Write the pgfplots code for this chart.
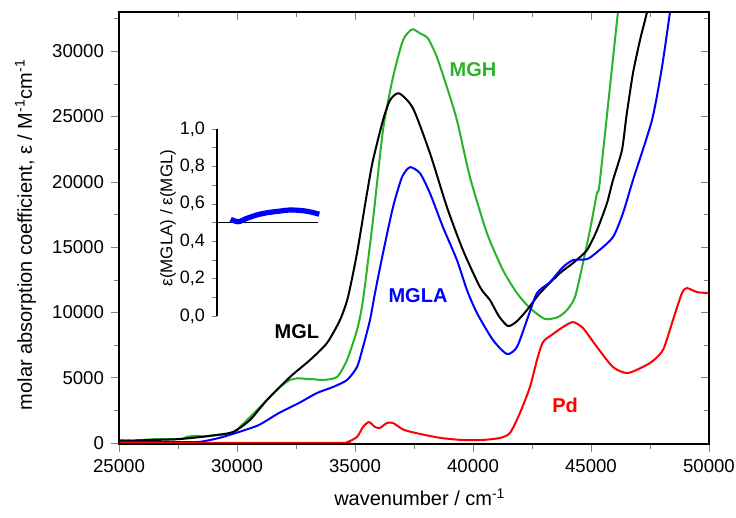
\documentclass[border=0pt]{standalone}
\usepackage{fontspec}
\setmainfont{Liberation Sans}
\usepackage{pgfplots}
\pgfplotsset{compat=1.18}
\definecolor{mgh}{RGB}{40,180,40}

\begin{document}
\begin{tikzpicture}
\path[use as bounding box] (-59.5pt,-37pt) rectangle (308.5pt,222pt);
% main axis: ticks out on bottom and left
\begin{axis}[
  at={(0,0)}, anchor=south west,
  scale only axis, width=295pt, height=216pt,
  xmin=25000, xmax=50000, ymin=-80, ymax=33000,
  xtick={25000,30000,...,50000}, ytick={0,5000,...,30000},
  minor xtick={27500,32500,...,47500}, minor ytick={2500,7500,...,32500},
  xtick pos=left, ytick pos=left, tick align=outside,
  major tick length=4pt, minor tick length=2.5pt,
  scaled ticks=false,
  /pgf/number format/1000 sep={},
  /pgf/number format/assume math mode=true,
  ticklabel style={font=\fontsize{9.3}{10}\selectfont},
  xlabel={wavenumber / cm\textsuperscript{-1}},
  ylabel={molar absorption coefficient, ε / M\textsuperscript{-1}cm\textsuperscript{-1}},
  label style={font=\fontsize{9.5}{11}\selectfont},
  every axis x label/.style={at={(axis description cs:0.51,-0.1227)}, anchor=center},
  every axis y label/.style={at={(axis description cs:-0.1585,0.485)}, rotate=90, anchor=center},
  axis line style={line width=0.6pt},
  every axis plot/.append style={line width=1pt, line join=round, smooth, tension=0.4},
]
% MGH
\addplot[mgh] coordinates {
(25000,230) (25600,180) (26200,260) (26737,300) (27300,280) (27700,330) (27881,470)
(28220,540) (28600,500) (28856,560) (29300,640) (29830,765) (30550,1990) (31271,3290)
(31822,4285) (32245,4820) (32600,4950) (32966,4900) (33300,4870) (33644,4820) (34237,5050)
(34661,6350) (35085,8645) (35339,10940) (35762,17060) (36186,23945) (36610,28000)
(37033,30830) (37415,31670) (37753,31365) (38092,30980) (38473,29530) (38897,27235)
(39321,24710) (39872,20350) (40592,16065) (41270,13235) (41863,11475) (42414,10330)
(43050,9490) (43600,9640) (43982,10175) (44321,11170) (44660,13770) (44956,16295)
(45253,19125) (45380,20120) (46143,32970) (46300,34500)
};
% MGL
\addplot[black] coordinates {
(25000,150) (26300,220) (27585,300) (28856,540) (29830,840) (30550,1760) (31271,3290)
(32245,5050) (33093,6350) (33813,7650) (34364,9410) (34703,11170) (35085,14535)
(35508,19125) (35762,21650) (36186,24710) (36482,26240) (36864,26775) (37457,25630)
(38177,22185) (38897,18050) (39575,14765) (40296,11935) (40719,10940) (41100,9700)
(41482,8950) (41850,9300) (42287,10175) (42838,11475) (43685,13005) (44236,13770)
(44829,14765) (45253,16295) (45677,18360) (45931,20120) (46312,22415) (46500,25000)
(46778,28305) (47075,30830) (47372,32970) (47500,34200)
};
% MGLA
\addplot[blue] coordinates {
(25000,75) (26500,90) (27500,70) (28388,75) (29237,380) (30084,840) (30932,1380)
(31779,2295) (32627,3060) (33390,3825) (34068,4285) (34661,4820) (35085,5815)
(35339,7345) (35635,9410) (35847,11475) (36186,14535) (36610,18055) (36991,20350)
(37330,21115) (37753,20655) (38177,19125) (38728,16525) (39321,14000) (39745,11705)
(40169,9945) (40847,7880) (41440,6810) (41863,7345) (42287,9410) (42711,11475)
(43262,12315) (43812,13465) (44236,14000) (44829,14075) (45253,14610) (45931,15760)
(46355,17595) (46778,20120) (47583,24710) (48007,28765) (48346,32970) (48420,34000)
};
% Pd
\addplot[red] coordinates {
(25000,0) (34200,0) (34661,60) (35085,460) (35339,1225) (35593,1600) (35847,1225)
(36059,1150) (36355,1530) (36609,1530) (37076,1000) (37754,690) (38643,380)
(39533,230) (40410,230) (41143,380) (41567,765) (41990,2295) (42414,4285) (42711,6350)
(42965,7725) (43389,8340) (43812,8875) (44236,9255) (44660,8800) (45253,7345)
(45931,5815) (46566,5355) (47498,6120) (48049,7115) (48473,9410) (48854,11475)
(49066,11860) (49490,11550) (50000,11475)
};
\node[mgh, font=\bfseries\fontsize{10}{12}\selectfont] at (axis cs:40000,28600) {MGH};
\node[black, font=\bfseries\fontsize{10}{12}\selectfont] at (axis cs:32540,8490) {MGL};
\node[blue, font=\bfseries\fontsize{10}{12}\selectfont] at (axis cs:37670,11250) {MGLA};
\node[red, font=\bfseries\fontsize{10}{12}\selectfont] at (axis cs:43900,2900) {Pd};
\end{axis}
% mirror ticks on top and right, pointing inward
\begin{axis}[
  at={(0,0)}, anchor=south west,
  scale only axis, width=295pt, height=216pt,
  xmin=25000, xmax=50000, ymin=-80, ymax=33000,
  xtick={25000,30000,...,50000}, ytick={0,5000,...,30000},
  minor xtick={27500,32500,...,47500}, minor ytick={2500,7500,...,32500},
  xtick pos=right, ytick pos=right, tick align=inside,
  major tick length=4pt, minor tick length=2.5pt,
  xticklabels={}, yticklabels={},
  axis line style={line width=0.6pt},
]
\end{axis}
% inset: ratio MGLA / MGL
\begin{axis}[
  at={(49pt,64pt)}, anchor=south west,
  scale only axis, width=50.5pt, height=93.5pt,
  xmin=0, xmax=101, ymin=0, ymax=1,
  axis x line=none, axis y line*=left,
  axis line style={-, line width=0.6pt},
  ytick={0,0.2,...,1.0}, minor ytick={0.1,0.3,...,0.9},
  tick align=outside, major tick length=2.5pt, minor tick length=2.5pt,
  clip=false,
  /pgf/number format/.cd, fixed, fixed zerofill, precision=1, use comma, assume math mode=true,
  /pgfplots/.cd,
  ticklabel style={font=\fontsize{9}{10}\selectfont},
  ylabel={ε(MGLA) / ε(MGL)},
  every axis y label/.style={at={(axis description cs:-0.485,0.524)}, rotate=90, anchor=center,
    font=\fontsize{8.5}{10}\selectfont},
]
\addplot[black, line width=0.5pt] coordinates {(0,0.5) (101,0.5)};
\addplot[blue, line width=2.6pt, smooth] coordinates {
(13.7,0.517) (21.3,0.504) (29.7,0.522) (39.7,0.540) (49.7,0.552) (63,0.561)
(73,0.567) (86,0.563) (94.7,0.555) (102.3,0.544)
};
\end{axis}
\end{tikzpicture}
\end{document}
